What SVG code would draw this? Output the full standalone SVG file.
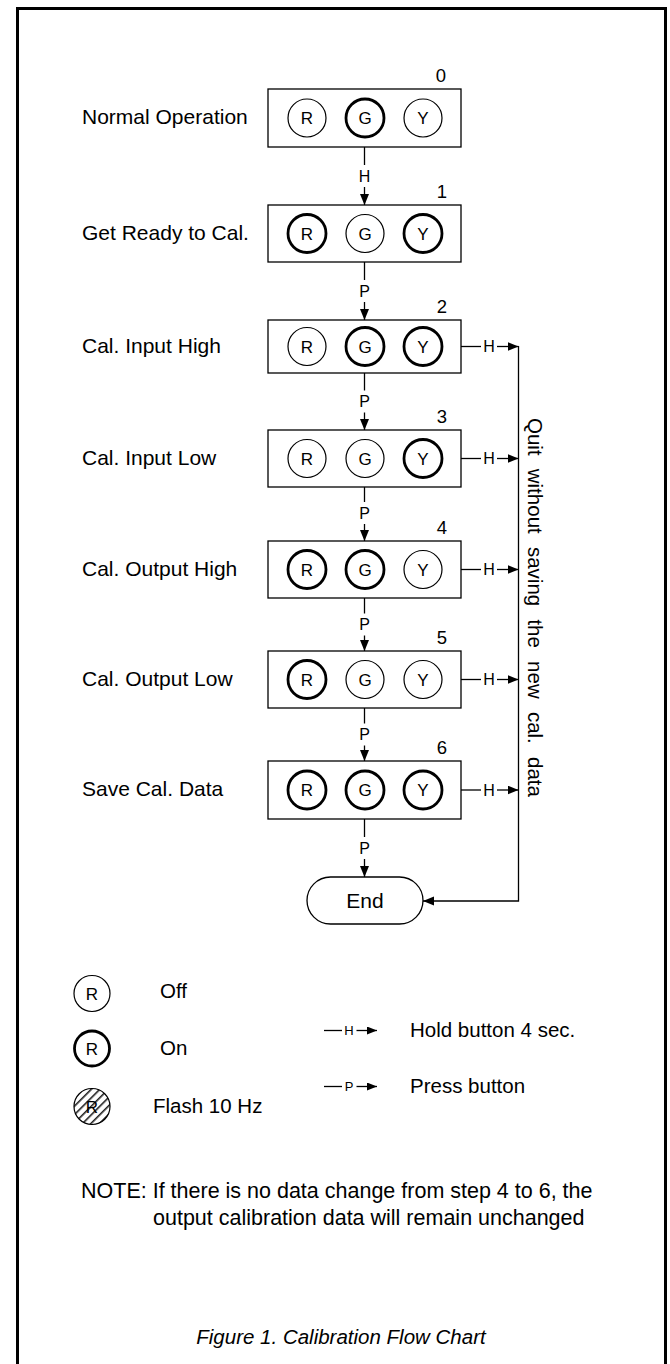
<svg xmlns="http://www.w3.org/2000/svg" width="670" height="1364" viewBox="0 0 670 1364">
<defs>
<style>
text{font-family:"Liberation Sans",Arial,Helvetica,sans-serif;fill:#000}
.lbl{font-size:21px}
.lg{font-size:20.5px}
.nt{font-size:21.5px}
.num{font-size:18.5px;text-anchor:middle}
.led{font-size:17px;text-anchor:middle}
.cl{font-size:16px;text-anchor:middle}
.sl{font-size:13px;text-anchor:middle}
.box{fill:#fff;stroke:#000;stroke-width:1.3}
.off{fill:#fff;stroke:#000;stroke-width:1.2}
.on{fill:#fff;stroke:#000;stroke-width:2.8}
.ln{fill:none;stroke:#000;stroke-width:1.3}
.cap{font-size:20.5px;font-style:italic;text-anchor:middle}
</style>
<marker id="ah" markerUnits="userSpaceOnUse" markerWidth="12" markerHeight="10" refX="11" refY="4.5" orient="auto">
<path d="M0,0 L11,4.5 L0,9 z" fill="#000"/>
</marker>
<marker id="ahs" markerUnits="userSpaceOnUse" markerWidth="11" markerHeight="9" refX="10" refY="4" orient="auto">
<path d="M0,0 L10,4 L0,8 z" fill="#000"/>
</marker>
<pattern id="hatch" patternUnits="userSpaceOnUse" width="6" height="6" patternTransform="rotate(45)">
<rect width="6" height="6" fill="#fff"/>
<line x1="0.8" y1="0" x2="0.8" y2="6" stroke="#000" stroke-width="1.4"/>
</pattern>
</defs>
<rect x="17.5" y="8.5" width="648" height="1400" fill="#fff" stroke="#000" stroke-width="3"/>

<g id="connectors">
<path class="ln" d="M364.5,147 V165"/><text class="cl" x="364.5" y="181.8">H</text><path class="ln" d="M364.5,187 V205" marker-end="url(#ah)"/>
<path class="ln" d="M364.5,262 V280"/><text class="cl" x="364.5" y="296.8">P</text><path class="ln" d="M364.5,302 V320" marker-end="url(#ah)"/>
<path class="ln" d="M364.5,373 V390.5"/><text class="cl" x="364.5" y="407.3">P</text><path class="ln" d="M364.5,412.5 V430" marker-end="url(#ah)"/>
<path class="ln" d="M364.5,487 V502"/><text class="cl" x="364.5" y="518.5">P</text><path class="ln" d="M364.5,524 V541" marker-end="url(#ah)"/>
<path class="ln" d="M364.5,598 V613.5"/><text class="cl" x="364.5" y="630.3">P</text><path class="ln" d="M364.5,635.5 V651" marker-end="url(#ah)"/>
<path class="ln" d="M364.5,708 V723.5"/><text class="cl" x="364.5" y="740.3">P</text><path class="ln" d="M364.5,745.5 V761" marker-end="url(#ah)"/>
<path class="ln" d="M364.5,819 V837"/><text class="cl" x="364.5" y="853.8">P</text><path class="ln" d="M364.5,859 V877" marker-end="url(#ah)"/>

<path class="ln" d="M461,346.5 H481"/><text class="cl" x="489" y="352.3">H</text><path class="ln" d="M497,346.5 H518.5" marker-end="url(#ah)"/>
<path class="ln" d="M461,458.5 H481"/><text class="cl" x="489" y="464.3">H</text><path class="ln" d="M497,458.5 H518.5" marker-end="url(#ah)"/>
<path class="ln" d="M461,569.5 H481"/><text class="cl" x="489" y="575.3">H</text><path class="ln" d="M497,569.5 H518.5" marker-end="url(#ah)"/>
<path class="ln" d="M461,679.5 H481"/><text class="cl" x="489" y="685.3">H</text><path class="ln" d="M497,679.5 H518.5" marker-end="url(#ah)"/>
<path class="ln" d="M461,790 H481"/><text class="cl" x="489" y="795.8">H</text><path class="ln" d="M497,790 H518.5" marker-end="url(#ah)"/>
<path class="ln" d="M518.5,346 V901 H423" marker-end="url(#ah)"/>
<text class="lg" transform="translate(528,418) rotate(90)" word-spacing="7.5">Quit without saving the new cal. data</text>
</g>

<g id="step0">
<text class="lbl" x="82" y="124">Normal Operation</text>
<rect class="box" x="268" y="89" width="193" height="58"/>
<text class="num" x="441" y="82">0</text>
<circle class="off" cx="307" cy="118" r="19"/><text class="led" x="307" y="124">R</text>
<circle class="on" cx="365" cy="118" r="19"/><text class="led" x="365" y="124">G</text>
<circle class="off" cx="423" cy="118" r="19"/><text class="led" x="423" y="124">Y</text>
</g>
<g id="step1">
<text class="lbl" x="82" y="239.5">Get Ready to Cal.</text>
<rect class="box" x="268" y="205" width="193" height="57"/>
<text class="num" x="442" y="198">1</text>
<circle class="on" cx="307" cy="233.5" r="19"/><text class="led" x="307" y="239.5">R</text>
<circle class="off" cx="365" cy="233.5" r="19"/><text class="led" x="365" y="239.5">G</text>
<circle class="on" cx="423" cy="233.5" r="19"/><text class="led" x="423" y="239.5">Y</text>
</g>
<g id="step2">
<text class="lbl" x="82" y="352.5">Cal. Input High</text>
<rect class="box" x="268" y="320" width="193" height="53"/>
<text class="num" x="442" y="313">2</text>
<circle class="off" cx="307" cy="346.5" r="19"/><text class="led" x="307" y="352.5">R</text>
<circle class="on" cx="365" cy="346.5" r="19"/><text class="led" x="365" y="352.5">G</text>
<circle class="on" cx="423" cy="346.5" r="19"/><text class="led" x="423" y="352.5">Y</text>
</g>
<g id="step3">
<text class="lbl" x="82" y="464.5">Cal. Input Low</text>
<rect class="box" x="268" y="430" width="193" height="57"/>
<text class="num" x="442" y="423">3</text>
<circle class="off" cx="307" cy="458.5" r="19"/><text class="led" x="307" y="464.5">R</text>
<circle class="off" cx="365" cy="458.5" r="19"/><text class="led" x="365" y="464.5">G</text>
<circle class="on" cx="423" cy="458.5" r="19"/><text class="led" x="423" y="464.5">Y</text>
</g>
<g id="step4">
<text class="lbl" x="82" y="575.5">Cal. Output High</text>
<rect class="box" x="268" y="541" width="193" height="57"/>
<text class="num" x="442" y="534">4</text>
<circle class="on" cx="307" cy="569.5" r="19"/><text class="led" x="307" y="575.5">R</text>
<circle class="on" cx="365" cy="569.5" r="19"/><text class="led" x="365" y="575.5">G</text>
<circle class="off" cx="423" cy="569.5" r="19"/><text class="led" x="423" y="575.5">Y</text>
</g>
<g id="step5">
<text class="lbl" x="82" y="685.5">Cal. Output Low</text>
<rect class="box" x="268" y="651" width="193" height="57"/>
<text class="num" x="442" y="644">5</text>
<circle class="on" cx="307" cy="679.5" r="19"/><text class="led" x="307" y="685.5">R</text>
<circle class="off" cx="365" cy="679.5" r="19"/><text class="led" x="365" y="685.5">G</text>
<circle class="off" cx="423" cy="679.5" r="19"/><text class="led" x="423" y="685.5">Y</text>
</g>
<g id="step6">
<text class="lbl" x="82" y="796">Save Cal. Data</text>
<rect class="box" x="268" y="761" width="193" height="58"/>
<text class="num" x="442" y="754">6</text>
<circle class="on" cx="307" cy="790" r="19"/><text class="led" x="307" y="796">R</text>
<circle class="on" cx="365" cy="790" r="19"/><text class="led" x="365" y="796">G</text>
<circle class="on" cx="423" cy="790" r="19"/><text class="led" x="423" y="796">Y</text>
</g>
<g id="end">
<rect class="box" x="307" y="877" width="116" height="47" rx="23.5"/>
<text class="lbl" x="365" y="908" text-anchor="middle">End</text>
</g>

<g id="legend">
<circle class="off" cx="92" cy="993.5" r="18"/><text class="led" x="92" y="999.5">R</text>
<text class="lg" x="160" y="998">Off</text>
<circle class="on" cx="92" cy="1048.5" r="17.5"/><text class="led" x="92" y="1054.5">R</text>
<text class="lg" x="160" y="1055">On</text>
<circle cx="92" cy="1106.5" r="18" fill="url(#hatch)" stroke="#000" stroke-width="1.2"/>
<text class="led" x="92" y="1112.5">R</text>
<text class="lg" x="153" y="1113">Flash 10 Hz</text>
<path class="ln" d="M324,1030.5 H342"/><text class="sl" x="349" y="1035.2">H</text><path class="ln" d="M356.5,1030.5 H377" marker-end="url(#ahs)"/>
<text class="lg" x="410" y="1037">Hold button 4 sec.</text>
<path class="ln" d="M324,1086.5 H342"/><text class="sl" x="349" y="1091.2">P</text><path class="ln" d="M356.5,1086.5 H377" marker-end="url(#ahs)"/>
<text class="lg" x="410" y="1093">Press button</text>
</g>

<g id="note">
<text class="nt" x="81" y="1198">NOTE: <tspan>If there is no data change from step 4 to 6, the</tspan></text>
<text class="nt" x="153" y="1225">output calibration data will remain unchanged</text>
</g>
<text class="cap" x="341" y="1344">Figure 1. Calibration Flow Chart</text>
</svg>
